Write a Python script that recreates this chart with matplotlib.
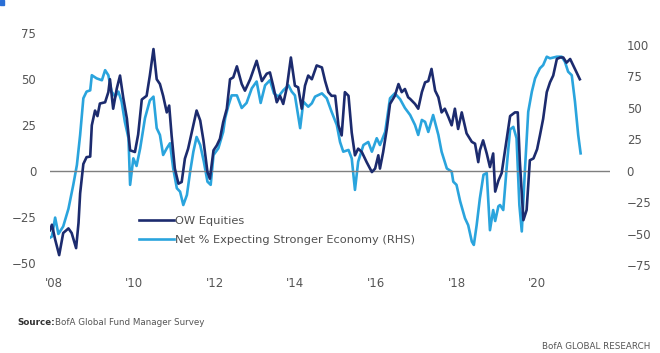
import matplotlib
matplotlib.use('Agg')
import matplotlib.pyplot as plt
from matplotlib.patches import Rectangle

# OW Equities (net %, left axis)
ow_years = [2007.91, 2007.96, 2008.04, 2008.14, 2008.24, 2008.37, 2008.45, 2008.56,
            2008.62, 2008.66, 2008.74, 2008.82, 2008.91, 2008.95, 2009.03, 2009.09,
            2009.15, 2009.28, 2009.36, 2009.40, 2009.48, 2009.57, 2009.65, 2009.73,
            2009.82, 2009.90, 2010.02, 2010.10, 2010.19, 2010.31, 2010.39, 2010.48,
            2010.56, 2010.64, 2010.72, 2010.81, 2010.87, 2010.93, 2011.01, 2011.10,
            2011.18, 2011.26, 2011.34, 2011.47, 2011.55, 2011.64, 2011.72, 2011.82,
            2011.88, 2011.97, 2012.05, 2012.13, 2012.21, 2012.30, 2012.38, 2012.46,
            2012.55, 2012.67, 2012.75, 2012.88, 2013.04, 2013.17, 2013.29, 2013.37,
            2013.45, 2013.54, 2013.62, 2013.70, 2013.79, 2013.89, 2013.99, 2014.07,
            2014.16, 2014.24, 2014.32, 2014.41, 2014.53, 2014.66, 2014.74, 2014.82,
            2014.90, 2014.99, 2015.07, 2015.15, 2015.23, 2015.32, 2015.40, 2015.48,
            2015.56, 2015.65, 2015.77, 2015.90, 2015.98, 2016.06, 2016.10, 2016.18,
            2016.27, 2016.35, 2016.47, 2016.56, 2016.64, 2016.72, 2016.80, 2016.85,
            2016.97, 2017.05, 2017.14, 2017.22, 2017.30, 2017.38, 2017.47, 2017.55,
            2017.63, 2017.71, 2017.80, 2017.88, 2017.96, 2018.04, 2018.13, 2018.25,
            2018.38, 2018.46, 2018.54, 2018.58, 2018.66, 2018.75, 2018.83, 2018.91,
            2018.96, 2019.04, 2019.12, 2019.25, 2019.33, 2019.45, 2019.52, 2019.57,
            2019.66, 2019.74, 2019.82, 2019.91, 2020.00, 2020.07, 2020.15, 2020.24,
            2020.32, 2020.40, 2020.49, 2020.57, 2020.65, 2020.73, 2020.82, 2020.90,
            2020.98, 2021.06]
ow_equities = [-32, -29, -37, -45.5, -33.5, -31, -33.5, -41.7,
               -28, -12, 4, 7.7, 8, 25, 33, 30,
               36.8, 37.5, 43, 50, 34, 45, 52, 40,
               28.7, 11.4, 10.5, 20, 39, 41, 52, 66.4,
               50, 47.4, 41, 32, 35.7, 19.5, 1.5, -6.7,
               -5.8, 6.9, 12.3, 25, 33, 27.6, 16.8, -0.4,
               -4, 11.4, 14, 17.7, 26.7, 34, 50, 51,
               57, 47.4, 43.8, 50, 60, 49, 53, 53.7,
               46.5, 37.5, 41, 36.6, 45.6, 61.8, 46.5, 45.6,
               34, 46.5, 52, 50, 57.5, 56.4, 49, 43,
               41, 41, 25, 19.5, 43, 41, 21, 8.7,
               12.3, 10.5, 5, -0.4, 1.5, 8.7, 1.5, 10.5,
               23, 36.6, 41, 47.4, 43, 44.7, 40.2, 39.3,
               36.6, 34, 43, 48.3, 49, 55.6, 43.8, 40.2,
               32, 34, 29.4, 25, 34, 23, 32, 20.6,
               16, 15, 5, 11.4, 16.8, 9.7, 2.3, 9.7,
               -11, -5, -1, 18, 30, 32, 32, 6,
               -26.5, -21, 6, 7, 12, 19.5, 28.5, 43,
               48.3, 52, 61, 61.8, 61.8, 59, 61, 57.4,
               53.7, 50]

# Net % expecting stronger economy (right axis)
econ_years = [2007.91, 2007.96, 2008.04, 2008.12, 2008.24, 2008.37, 2008.49, 2008.58,
              2008.66, 2008.74, 2008.82, 2008.91, 2008.95, 2009.07, 2009.20, 2009.28,
              2009.36, 2009.44, 2009.53, 2009.61, 2009.69, 2009.77, 2009.86, 2009.90,
              2009.98, 2010.06, 2010.15, 2010.27, 2010.39, 2010.48, 2010.56, 2010.64,
              2010.72, 2010.81, 2010.89, 2010.97, 2011.06, 2011.14, 2011.22, 2011.31,
              2011.39, 2011.47, 2011.55, 2011.64, 2011.73, 2011.82, 2011.90, 2011.97,
              2012.09, 2012.21, 2012.26, 2012.34, 2012.42, 2012.55, 2012.67, 2012.79,
              2012.92, 2013.04, 2013.14, 2013.25, 2013.37, 2013.47, 2013.58, 2013.70,
              2013.83, 2013.91, 2013.99, 2014.12, 2014.20, 2014.32, 2014.41, 2014.49,
              2014.66, 2014.78, 2014.90, 2015.03, 2015.11, 2015.19, 2015.32, 2015.40,
              2015.48, 2015.56, 2015.69, 2015.81, 2015.90, 2016.02, 2016.10, 2016.23,
              2016.35, 2016.47, 2016.60, 2016.72, 2016.85, 2016.97, 2017.05, 2017.14,
              2017.22, 2017.30, 2017.42, 2017.55, 2017.63, 2017.76, 2017.88, 2017.92,
              2018.00, 2018.09, 2018.21, 2018.29, 2018.38, 2018.43, 2018.50, 2018.58,
              2018.67, 2018.75, 2018.83, 2018.91, 2018.96, 2019.04, 2019.08, 2019.16,
              2019.25, 2019.33, 2019.41, 2019.49, 2019.56, 2019.62, 2019.70, 2019.78,
              2019.87, 2019.95, 2020.07, 2020.15, 2020.24, 2020.32, 2020.49, 2020.61,
              2020.69, 2020.77, 2020.86, 2020.94, 2021.02, 2021.08]
econ_stronger = [-53, -52, -37, -50, -44, -30, -11, 4.8,
                 28.6, 57.7, 63, 64, 76, 73.5, 72, 80,
                 76, 63, 59, 63, 55, 39, 26, -11,
                 10, 4, 18, 42, 56, 59, 34, 28.6,
                 12.7, 18, 22, 2, -13.7, -16.4, -27, -19,
                 -0.5, 15.3, 27, 20.6, 7.4, -8.5, -11, 12.7,
                 18, 31, 42, 52, 60, 60, 50, 54,
                 65.6, 71, 54, 68, 72, 61.6, 59, 64,
                 68, 63, 60, 34, 55, 51, 53.7, 59,
                 61.6, 57.7, 47, 36.5, 23, 15.3, 16.7, 10,
                 -15, 7.4, 20.6, 23, 15.3, 26, 20.6, 31,
                 57.7, 61.6, 57, 50, 44.4, 36.5, 28.6, 40.5,
                 39, 31, 44.4, 28.6, 15.3, 2, -0.5, -8.5,
                 -11, -24, -37.5, -43, -56, -58.7, -43, -21.7,
                 -3, -1.6, -47, -31, -39.7, -28, -27, -31,
                 4.8, 33, 35, 26, -27, -48, 2, 47,
                 63, 73.5, 81.5, 84, 90.7, 89.4, 90.7, 90.7,
                 86.7, 78.8, 76, 55, 28.6, 14]

year_ticks = [2008, 2010, 2012, 2014, 2016, 2018, 2020]
year_labels = ["'08", "'10", "'12", "'14", "'16", "'18", "'20"]
left_ticks = [-50, -25, 0, 25, 50, 75]
right_ticks = [-75, -50, -25, 0, 25, 50, 75, 100]

navy = '#1c2b6e'
cyan = '#2aa4dd'
tick_col = '#555555'

fig = plt.figure(figsize=(6.6, 3.53), dpi=100)
ax = fig.add_axes([0.0758, 0.2465, 0.8485, 0.6657])
ax2 = ax.twinx()

ax2.plot(econ_years, econ_stronger, color=cyan, lw=1.9, solid_joinstyle='round')
ax.plot(ow_years, ow_equities, color=navy, lw=1.9, solid_joinstyle='round',
        label='OW Equities')
ax.plot([], [], color=cyan, lw=1.9, label='Net % Expecting Stronger Economy (RHS)')
ax.axhline(0, color='#7f7f7f', lw=1.0, zorder=0)

# dark line on top of the light one
ax.set_zorder(ax2.get_zorder() + 1)
ax.patch.set_visible(False)

ax.set_xlim(2007.913, 2021.81)
ax.set_ylim(-51.4, 76.2)
ax2.set_ylim(-75.4, 111.1)

ax.set_xticks(year_ticks)
ax.set_xticklabels(year_labels)
ax.set_yticks(left_ticks)
ax2.set_yticks(right_ticks)

for a in (ax, ax2):
    for s in a.spines.values():
        s.set_visible(False)
ax.tick_params(axis='x', length=0, pad=8, labelsize=8.5, labelcolor=tick_col)
ax.tick_params(axis='y', length=0, pad=10, labelsize=8.5, labelcolor=tick_col)
ax2.tick_params(axis='y', length=0, pad=12, labelsize=8.5, labelcolor=tick_col)

leg = ax.legend(loc='upper left', bbox_to_anchor=(0.15, 0.232), frameon=False,
                fontsize=8.2, handlelength=3.1, handletextpad=0.1,
                labelspacing=0.75, borderaxespad=0)
for t in leg.get_texts():
    t.set_color('#505050')

fig.text(0.027, 0.078, 'Source:', fontsize=6.3, fontweight='bold', color='#333333')
fig.text(0.083, 0.078, 'BofA Global Fund Manager Survey', fontsize=6.3, color='#555555')
fig.text(0.985, 0.012, 'BofA GLOBAL RESEARCH', fontsize=6.3, color='#555555', ha='right')

fig.patches.append(Rectangle((0, 0.985), 0.006, 0.015, transform=fig.transFigure,
                             color='#2a6fd6', figure=fig))

fig.savefig('out.png', dpi=100)
